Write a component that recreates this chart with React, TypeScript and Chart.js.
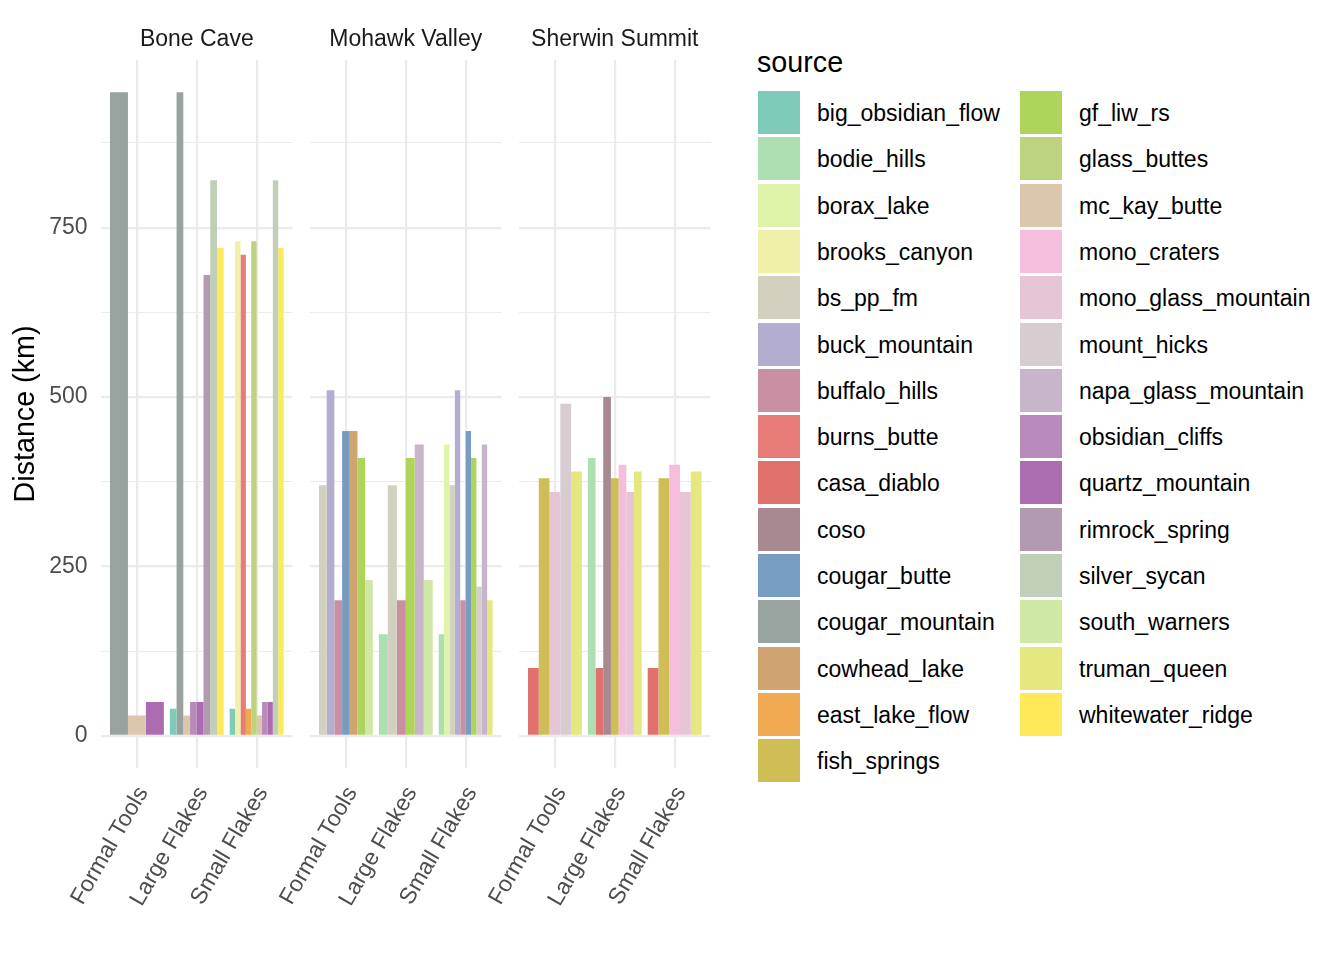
import { useEffect, useRef } from "react";
import { Chart, registerables } from "chart.js";

Chart.register(...registerables);

const FONT = "'Liberation Sans', Arial, Helvetica, sans-serif";
Chart.defaults.font.family = FONT;

const sites = ["Bone Cave", "Mohawk Valley", "Sherwin Summit"];
const artifactTypes = ["Formal Tools", "Large Flakes", "Small Flakes"];

const sources = [
  "big_obsidian_flow", "bodie_hills", "borax_lake", "brooks_canyon", "bs_pp_fm",
  "buck_mountain", "buffalo_hills", "burns_butte", "casa_diablo", "coso",
  "cougar_butte", "cougar_mountain", "cowhead_lake", "east_lake_flow", "fish_springs",
  "gf_liw_rs", "glass_buttes", "mc_kay_butte", "mono_craters", "mono_glass_mountain",
  "mount_hicks", "napa_glass_mountain", "obsidian_cliffs", "quartz_mountain", "rimrock_spring",
  "silver_sycan", "south_warners", "truman_queen", "whitewater_ridge"
];

const sourceColors = [
  "#7FCBBA", "#AEDFB2", "#DFF4A8", "#F0F0AA", "#D2D0BE",
  "#B3AED0", "#C890A2", "#E77B78", "#E0716D", "#A88891",
  "#789DC3", "#98A29E", "#CFA470", "#F0AA52", "#CEBE55",
  "#AFD45C", "#BED37F", "#DDC6AE", "#F4BEDC", "#E6C5D5",
  "#D7CCD0", "#C7B5C9", "#B98BBC", "#AC6CB0", "#B29BB1",
  "#C0CFB7", "#D0E8A6", "#E5E87E", "#FEE95B"
];

// distance (km) per source: [Formal Tools, Large Flakes, Small Flakes], null = not present
const boneCave: Record<string, (number | null)[]> = {
  big_obsidian_flow: [null, 40, 40],
  brooks_canyon: [null, null, 730],
  burns_butte: [null, null, 710],
  cougar_mountain: [950, 950, null],
  east_lake_flow: [null, null, 40],
  glass_buttes: [null, null, 730],
  mc_kay_butte: [30, 30, 30],
  obsidian_cliffs: [null, 50, 50],
  quartz_mountain: [50, 50, 50],
  rimrock_spring: [null, 680, null],
  silver_sycan: [null, 820, 820],
  whitewater_ridge: [null, 720, 720]
};

const mohawkValley: Record<string, (number | null)[]> = {
  bodie_hills: [null, 150, 150],
  borax_lake: [null, null, 430],
  bs_pp_fm: [370, 370, 370],
  buck_mountain: [510, null, 510],
  buffalo_hills: [200, 200, 200],
  cougar_butte: [450, null, 450],
  cowhead_lake: [450, null, null],
  gf_liw_rs: [410, 410, 410],
  mount_hicks: [null, null, 220],
  napa_glass_mountain: [null, 430, 430],
  south_warners: [230, 230, null],
  truman_queen: [null, null, 200]
};

const sherwinSummit: Record<string, (number | null)[]> = {
  bodie_hills: [null, 410, null],
  casa_diablo: [100, 100, 100],
  coso: [null, 500, null],
  fish_springs: [380, 380, 380],
  mono_craters: [null, 400, 400],
  mono_glass_mountain: [360, 360, 360],
  mount_hicks: [490, null, null],
  truman_queen: [390, 390, 390]
};

const siteDistances = [boneCave, mohawkValley, sherwinSummit];

const yMajor = [0, 250, 500, 750];
const yGrid = [0, 125, 250, 375, 500, 625, 750, 875];

const PANEL_W = 194;
const panelLefts = [101, 310, 519];
const GRID = "#EBEBEB";

function FacetPanel({
  site,
  distances,
  left,
  withYAxis
}: {
  site: string;
  distances: Record<string, (number | null)[]>;
  left: number;
  withYAxis: boolean;
}) {
  const canvasRef = useRef<HTMLCanvasElement | null>(null);
  const gutter = withYAxis ? 101 : 80;

  useEffect(() => {
    if (!canvasRef.current) return;

    const chart = new Chart(canvasRef.current, {
      type: "bar",
      data: {
        datasets: sources.map((source, i) => ({
          label: source,
          data: artifactTypes.map((_, j) => ({
            x: j,
            y: distances[source] ? distances[source][j] : null
          })),
          backgroundColor: sourceColors[i],
          borderWidth: 0,
          categoryPercentage: 0.9,
          barPercentage: 1,
          skipNull: true
        })) as any
      },
      options: {
        responsive: true,
        maintainAspectRatio: false,
        animation: false,
        layout: {
          padding: { left: withYAxis ? 0 : gutter, right: 0, top: 0, bottom: 0 }
        },
        plugins: {
          legend: { display: false },
          tooltip: { enabled: false },
          title: {
            display: true,
            text: site,
            fullSize: false,
            color: "#1A1A1A",
            font: { size: 23, weight: "normal" },
            padding: { top: 25.5, bottom: 6.9 }
          }
        },
        scales: {
          x: {
            type: "linear",
            min: -0.6,
            max: 2.6,
            offset: false,
            border: { display: false },
            grid: {
              offset: false,
              color: GRID,
              lineWidth: 2.2,
              drawTicks: false
            },
            ticks: {
              autoSkip: false,
              minRotation: 60,
              maxRotation: 60,
              padding: 14,
              labelOffset: 6,
              color: "#4D4D4D",
              font: { size: 23 },
              callback: (value) => artifactTypes[Number(value)] ?? ""
            },
            afterBuildTicks: (axis) => {
              axis.ticks = artifactTypes.map((_, i) => ({ value: i }));
            },
            afterFit: (axis) => {
              axis.height = 192;
            }
          },
          y: {
            min: -47.5,
            max: 997.5,
            border: { display: false },
            grid: {
              color: GRID,
              drawTicks: false,
              lineWidth: (ctx) =>
                ctx.tick && yMajor.includes(ctx.tick.value) ? 2.2 : 1.1
            },
            ticks: {
              display: withYAxis,
              padding: 13.5,
              color: "#4D4D4D",
              font: { size: 23 },
              callback: (value) =>
                yMajor.includes(Number(value)) ? String(value) : ""
            },
            title: {
              display: withYAxis,
              text: "Distance (km)",
              color: "#000000",
              font: { size: 28.7 },
              padding: { top: 9, bottom: 0 }
            },
            afterBuildTicks: (axis) => {
              axis.ticks = yGrid.map((v) => ({ value: v }));
            },
            afterFit: (axis) => {
              axis.width = withYAxis ? gutter : 0;
            }
          }
        }
      }
    });

    return () => chart.destroy();
  }, [site, distances, withYAxis, gutter]);

  return (
    <div
      style={{
        position: "absolute",
        left: left - gutter,
        top: 0,
        width: gutter + PANEL_W,
        height: 960
      }}
    >
      <canvas ref={canvasRef} />
    </div>
  );
}

function SourceLegend() {
  const perColumn = 15;
  return (
    <>
      <div
        style={{
          position: "absolute",
          left: 757,
          top: 45,
          fontSize: 28.7,
          lineHeight: "34px",
          color: "#000"
        }}
      >
        source
      </div>
      {sources.map((source, i) => {
        const col = Math.floor(i / perColumn);
        const row = i % perColumn;
        const top = 91 + row * 46.3;
        const keyLeft = 758 + col * 262;
        return (
          <div key={source}>
            <div
              style={{
                position: "absolute",
                left: keyLeft,
                top,
                width: 42,
                height: 43,
                background: sourceColors[i]
              }}
            />
            <div
              style={{
                position: "absolute",
                left: keyLeft + 59,
                top: top + 1,
                height: 43,
                lineHeight: "43px",
                fontSize: 23,
                color: "#000",
                whiteSpace: "nowrap"
              }}
            >
              {source}
            </div>
          </div>
        );
      })}
    </>
  );
}

export default function App() {
  return (
    <div
      style={{
        position: "absolute",
        left: 0,
        top: 0,
        width: 1344,
        height: 960,
        background: "#FFFFFF",
        fontFamily: FONT,
        overflow: "hidden"
      }}
    >
      {sites.map((site, i) => (
        <FacetPanel
          key={site}
          site={site}
          distances={siteDistances[i]}
          left={panelLefts[i]}
          withYAxis={i === 0}
        />
      ))}
      <SourceLegend />
    </div>
  );
}
